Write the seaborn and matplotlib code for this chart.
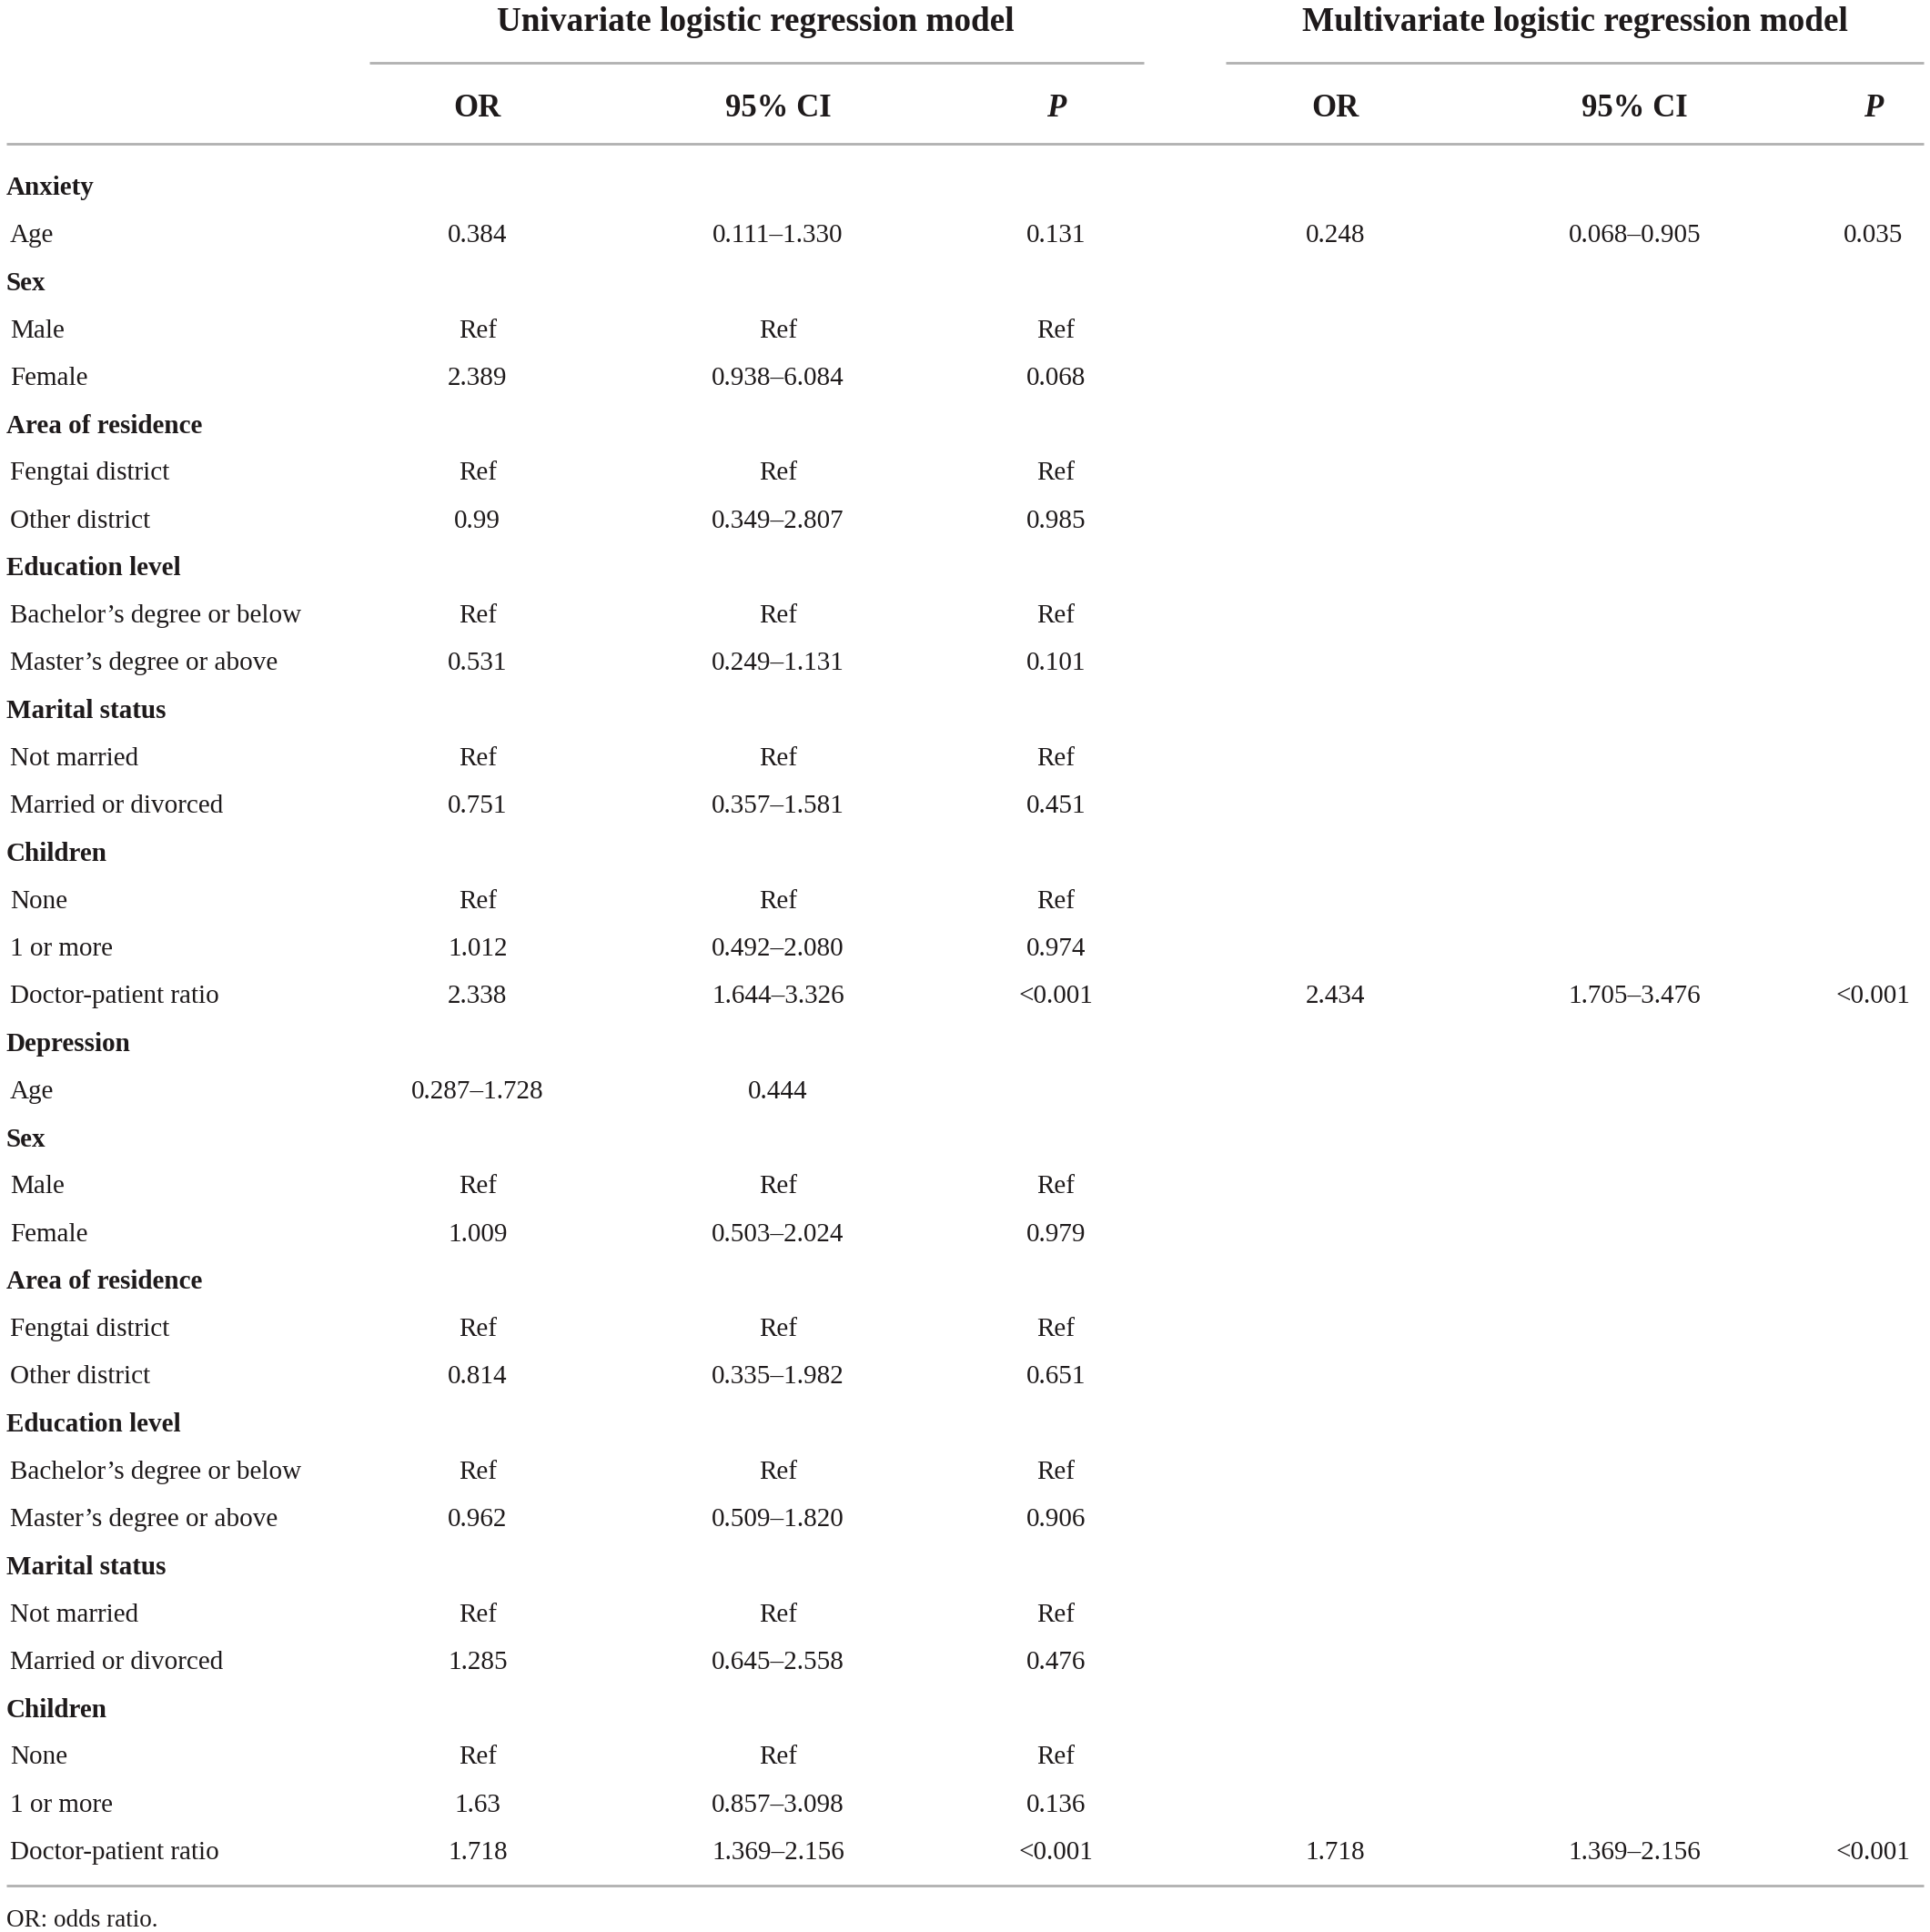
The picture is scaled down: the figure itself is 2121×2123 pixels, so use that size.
import matplotlib
matplotlib.use("Agg")
import matplotlib.pyplot as plt
import seaborn as sns

# table content
row_labels = [
    "Anxiety", "Age", "Sex", "Male", "Female", "Area of residence",
    "Fengtai district", "Other district", "Education level",
    "Bachelor\u2019s degree or below", "Master\u2019s degree or above",
    "Marital status", "Not married", "Married or divorced", "Children",
    "None", "1 or more", "Doctor-patient ratio",
    "Depression", "Age", "Sex", "Male", "Female", "Area of residence",
    "Fengtai district", "Other district", "Education level",
    "Bachelor\u2019s degree or below", "Master\u2019s degree or above",
    "Marital status", "Not married", "Married or divorced", "Children",
    "None", "1 or more", "Doctor-patient ratio",
]
bold_rows = ["Anxiety", "Sex", "Area of residence", "Education level",
             "Marital status", "Children", "Depression"]

uni_or = ["", "0.384", "", "Ref", "2.389", "", "Ref", "0.99", "", "Ref", "0.531",
          "", "Ref", "0.751", "", "Ref", "1.012", "2.338",
          "", "0.287\u20131.728", "", "Ref", "1.009", "", "Ref", "0.814", "", "Ref", "0.962",
          "", "Ref", "1.285", "", "Ref", "1.63", "1.718"]
uni_ci = ["", "0.111\u20131.330", "", "Ref", "0.938\u20136.084", "", "Ref", "0.349\u20132.807",
          "", "Ref", "0.249\u20131.131", "", "Ref", "0.357\u20131.581", "", "Ref",
          "0.492\u20132.080", "1.644\u20133.326",
          "", "0.444", "", "Ref", "0.503\u20132.024", "", "Ref", "0.335\u20131.982", "", "Ref",
          "0.509\u20131.820", "", "Ref", "0.645\u20132.558", "", "Ref", "0.857\u20133.098",
          "1.369\u20132.156"]
uni_p = ["", "0.131", "", "Ref", "0.068", "", "Ref", "0.985", "", "Ref", "0.101",
         "", "Ref", "0.451", "", "Ref", "0.974", "<0.001",
         "", "", "", "Ref", "0.979", "", "Ref", "0.651", "", "Ref", "0.906",
         "", "Ref", "0.476", "", "Ref", "0.136", "<0.001"]
multi_or = {1: "0.248", 17: "2.434", 35: "1.718"}
multi_ci = {1: "0.068\u20130.905", 17: "1.705\u20133.476", 35: "1.369\u20132.156"}
multi_p = {1: "0.035", 17: "<0.001", 35: "<0.001"}

group_titles = ["Univariate logistic regression model", "Multivariate logistic regression model"]
col_headers = ["OR", "95% CI", "P", "OR", "95% CI", "P"]
footnote = "OR: odds ratio."

sns.set_theme(style="white")
plt.rcParams["font.family"] = ["Liberation Serif", "DejaVu Serif"]

W, H = 2121, 2123
fig = plt.figure(figsize=(W / 100, H / 100), dpi=100)
ax = fig.add_axes([0, 0, 1, 1])
ax.set_xlim(0, 1568)
ax.set_ylim(1568 * H / W, 0)
ax.axis("off")

ink = "#1e1a1b"
rule = "#b0b0b0"
body = 21
head = 25
off = 3  # va=center sits a little high for serif text

col_x = [388, 632, 858, 1085, 1328, 1522]

# group titles and rules
ax.text(614, 15 + off, group_titles[0], ha="center", va="center", fontsize=26.8,
        fontweight="bold", color=ink)
ax.text(1280, 15 + off, group_titles[1], ha="center", va="center", fontsize=26.8,
        fontweight="bold", color=ink)
ax.hlines(51, 300, 929, color=rule, lw=2)
ax.hlines(51, 996, 1563, color=rule, lw=2)

for x, h in zip(col_x, col_headers):
    ax.text(x, 85 + off, h, ha="center", va="center", fontsize=head, fontweight="bold",
            fontstyle="italic" if h == "P" else "normal", color=ink)
ax.hlines(117, 5, 1563, color=rule, lw=2)

y0, dy = 150, (1502 - 150) / 35
for i, lab in enumerate(row_labels):
    y = y0 + i * dy + off
    is_bold = lab in bold_rows and not uni_or[i] and not uni_ci[i]
    ax.text(5 if is_bold else 8, y, lab, ha="left", va="center", fontsize=body,
            fontweight="bold" if is_bold else "normal", color=ink)
    for x, val in zip(col_x[:3], [uni_or[i], uni_ci[i], uni_p[i]]):
        if val:
            ax.text(x, y, val, ha="center", va="center", fontsize=body, color=ink)
    for x, d in zip(col_x[3:], [multi_or, multi_ci, multi_p]):
        if i in d:
            ax.text(x, y, d[i], ha="center", va="center", fontsize=body, color=ink)

ax.hlines(1532, 5, 1563, color=rule, lw=2)
ax.text(5, 1557 + off, footnote, ha="left", va="center", fontsize=19.5, color=ink)

fig.savefig("out.png", dpi=100, facecolor="white")
